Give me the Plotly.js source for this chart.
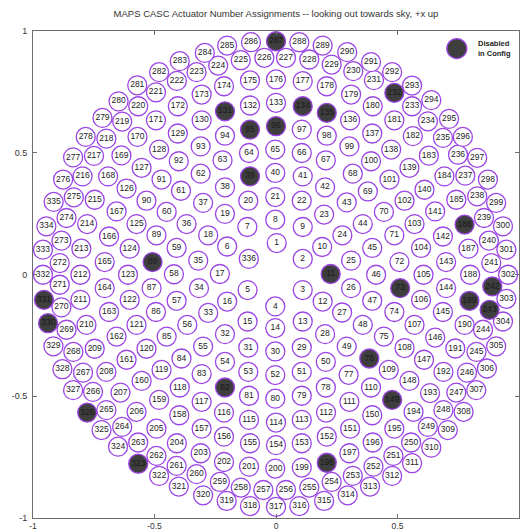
<!DOCTYPE html>
<html>
<head>
<meta charset="utf-8">
<script src="https://cdn.plot.ly/plotly-3.0.1.min.js"></script>
<style>html,body{margin:0;padding:0;background:#fff;}#chart{width:521px;height:531px;}</style>
</head>
<body>
<div id="chart"></div>
<script>
// Actuator numbers (index i -> actuator ids[i])
const actuatorIds = [
1,2,3,4,5,6,7,8,9,10,11,12,13,14,15,16,17,18,19,20,21,22,23,24,25,26,27,28,29,30,
31,32,33,34,35,36,37,38,39,40,41,42,43,44,45,46,47,48,49,50,51,52,53,54,55,56,57,58,59,60,
61,62,63,64,65,66,67,68,69,70,71,72,73,74,75,76,77,78,79,80,81,82,83,84,85,86,87,88,89,90,
91,92,93,94,95,96,97,98,99,100,101,102,103,104,105,106,107,108,109,110,111,112,113,114,115,116,117,118,119,120,
121,122,123,124,125,126,127,128,129,130,131,132,133,134,135,136,137,138,139,140,141,142,143,144,145,146,147,148,149,150,
151,152,153,154,155,156,157,158,159,160,161,162,163,164,165,166,167,168,169,170,171,172,173,174,175,176,177,178,179,180,
181,182,183,184,185,186,187,188,189,190,191,192,193,194,195,196,197,198,199,200,201,202,203,204,205,206,207,208,209,210,
211,212,213,214,215,216,217,218,219,220,221,222,223,224,225,226,227,228,229,230,231,232,233,234,235,236,237,238,239,240,
241,242,243,244,245,246,247,248,249,250,251,252,253,254,255,256,257,258,259,260,261,262,263,264,265,266,267,268,269,270,
271,272,273,274,275,276,277,278,279,280,281,282,283,284,285,286,287,288,289,290,291,292,293,294,295,296,297,298,299,300,
301,302,303,304,305,306,307,308,309,310,311,312,313,314,315,316,317,318,319,320,321,322,323,324,325,326,327,328,329,330,
331,332,333,334,335,336];

const actuatorX = [
0.003,0.110,0.110,-0.003,-0.117,-0.201,-0.118,-0.003,0.110,0.190,0.225,0.192,0.110,-0.003,-0.117,-0.201,-0.231,-0.279,-0.210,-0.114,
-0.003,0.106,0.198,0.273,0.309,0.309,0.272,0.202,0.106,-0.003,-0.114,-0.210,-0.279,-0.317,-0.320,-0.368,-0.300,-0.210,-0.107,-0.003,
0.110,0.202,0.291,0.357,0.396,0.412,0.396,0.357,0.291,0.205,0.106,-0.003,-0.114,-0.210,-0.300,-0.365,-0.409,-0.420,-0.409,-0.450,
-0.391,-0.310,-0.220,-0.111,-0.003,0.106,0.205,0.316,0.378,0.444,0.487,0.508,0.511,0.487,0.444,0.384,0.299,0.205,0.106,-0.003,
-0.111,-0.210,-0.306,-0.389,-0.450,-0.494,-0.512,-0.508,-0.492,-0.533,-0.471,-0.400,-0.310,-0.210,-0.107,0.000,0.106,0.209,0.302,0.391,
0.467,0.529,0.570,0.597,0.607,0.597,0.570,0.529,0.464,0.391,0.302,0.206,0.106,0.000,-0.111,-0.214,-0.306,-0.396,-0.471,-0.533,
-0.574,-0.602,-0.609,-0.602,-0.574,-0.615,-0.553,-0.481,-0.404,-0.306,-0.210,-0.107,0.000,0.110,0.209,0.305,0.396,0.474,0.549,0.611,
0.655,0.687,0.700,0.700,0.687,0.655,0.609,0.549,0.478,0.396,0.305,0.209,0.106,0.000,-0.107,-0.214,-0.306,-0.398,-0.481,-0.553,
-0.615,-0.656,-0.687,-0.705,-0.705,-0.687,-0.656,-0.691,-0.636,-0.570,-0.494,-0.404,-0.306,-0.214,-0.107,0.000,0.110,0.209,0.309,0.398,
0.487,0.563,0.629,0.693,0.742,0.776,0.792,0.799,0.796,0.776,0.738,0.689,0.634,0.566,0.487,0.398,0.302,0.209,0.106,-0.003,
-0.111,-0.214,-0.310,-0.408,-0.492,-0.574,-0.640,-0.698,-0.746,-0.780,-0.805,-0.805,-0.801,-0.777,-0.746,-0.796,-0.749,-0.698,-0.633,-0.567,
-0.494,-0.408,-0.327,-0.238,-0.145,-0.048,0.041,0.137,0.229,0.318,0.403,0.487,0.560,0.625,0.687,0.749,0.779,0.828,0.856,0.876,
0.886,0.890,0.879,0.852,0.825,0.786,0.742,0.689,0.625,0.556,0.483,0.401,0.316,0.229,0.137,0.041,-0.052,-0.145,-0.231,-0.327,
-0.409,-0.492,-0.567,-0.633,-0.698,-0.753,-0.794,-0.834,-0.862,-0.883,-0.890,-0.890,-0.883,-0.862,-0.832,-0.876,-0.835,-0.783,-0.714,-0.648,
-0.571,-0.481,-0.396,-0.293,-0.201,-0.103,0.000,0.096,0.192,0.293,0.391,0.478,0.560,0.639,0.712,0.769,0.828,0.872,0.906,0.934,
0.948,0.955,0.948,0.934,0.906,0.868,0.824,0.772,0.707,0.639,0.560,0.478,0.387,0.295,0.198,0.096,0.000,-0.107,-0.203,-0.300,
-0.400,-0.481,-0.567,-0.650,-0.718,-0.777,-0.835,-0.879,-0.916,-0.938,-0.955,-0.959,-0.959,-0.945,-0.915,-0.112];

const actuatorY = [
0.129,0.064,-0.064,-0.131,-0.064,0.115,0.195,0.225,0.195,0.113,0.002,-0.111,-0.193,-0.220,-0.193,-0.111,0.002,0.161,0.249,0.303,
0.318,0.303,0.246,0.161,0.057,-0.056,-0.156,-0.245,-0.300,-0.316,-0.300,-0.245,-0.158,-0.056,0.057,0.207,0.294,0.358,0.403,0.417,
0.403,0.358,0.296,0.207,0.109,-0.001,-0.108,-0.207,-0.296,-0.359,-0.400,-0.413,-0.400,-0.359,-0.296,-0.207,-0.108,0.001,0.109,0.257,
0.344,0.414,0.469,0.499,0.513,0.499,0.469,0.414,0.341,0.257,0.161,0.051,-0.056,-0.154,-0.255,-0.345,-0.412,-0.464,-0.498,-0.510,
-0.498,-0.464,-0.409,-0.345,-0.255,-0.154,-0.056,0.051,0.161,0.303,0.390,0.465,0.526,0.570,0.595,0.609,0.595,0.570,0.526,0.465,
0.390,0.303,0.207,0.109,-0.001,-0.104,-0.207,-0.302,-0.392,-0.464,-0.523,-0.567,-0.597,-0.608,-0.597,-0.567,-0.523,-0.464,-0.392,-0.305,
-0.207,-0.104,-0.001,0.106,0.207,0.353,0.438,0.513,0.579,0.633,0.670,0.694,0.705,0.691,0.664,0.633,0.579,0.513,0.438,0.348,
0.259,0.156,0.051,-0.056,-0.154,-0.259,-0.350,-0.437,-0.515,-0.578,-0.633,-0.666,-0.693,-0.701,-0.693,-0.666,-0.633,-0.578,-0.515,-0.437,
-0.350,-0.255,-0.154,-0.056,0.051,0.156,0.259,0.403,0.489,0.565,0.633,0.691,0.739,0.773,0.797,0.801,0.794,0.773,0.739,0.691,
0.633,0.568,0.488,0.403,0.307,0.205,0.106,-0.001,-0.108,-0.207,-0.304,-0.400,-0.487,-0.564,-0.633,-0.690,-0.734,-0.773,-0.793,-0.797,
-0.789,-0.770,-0.734,-0.693,-0.633,-0.564,-0.485,-0.400,-0.305,-0.207,-0.104,-0.001,0.106,0.207,0.307,0.403,0.487,0.558,0.628,0.691,
0.748,0.795,0.831,0.858,0.880,0.890,0.890,0.883,0.862,0.835,0.798,0.746,0.691,0.629,0.561,0.492,0.406,0.321,0.232,0.139,
0.047,-0.049,-0.145,-0.227,-0.318,-0.403,-0.485,-0.557,-0.626,-0.690,-0.745,-0.789,-0.827,-0.852,-0.875,-0.885,-0.885,-0.875,-0.852,-0.820,
-0.786,-0.745,-0.690,-0.626,-0.557,-0.482,-0.403,-0.318,-0.227,-0.135,-0.042,0.047,0.139,0.232,0.317,0.390,0.481,0.565,0.643,0.711,
0.777,0.831,0.876,0.910,0.940,0.954,0.958,0.954,0.940,0.913,0.872,0.831,0.776,0.716,0.639,0.565,0.479,0.390,0.294,0.198,
0.102,-0.001,-0.100,-0.193,-0.295,-0.386,-0.475,-0.564,-0.639,-0.711,-0.775,-0.827,-0.871,-0.907,-0.930,-0.951,-0.954,-0.951,-0.930,-0.907,
-0.871,-0.827,-0.777,-0.707,-0.639,-0.567,-0.475,-0.389,-0.295,-0.200,-0.104,-0.001,0.102,0.198,0.298,0.064];

// Actuators disabled in config
const disabledIds = [11,39,73,76,82,88,95,96,131,134,135,149,186,189,198,232,242,243,287,323,326,330,331];

const tickVals = [-1, -0.5, 0, 0.5, 1];
const tickLabels = ["-1", "-0.5", "0", "0.5", "1"];

const FONT = "Liberation Sans, Arial, Helvetica, sans-serif";
const RING = "#9b45e4";

const en = {x: [], y: [], t: []}, dis = {x: [], y: [], t: []};
actuatorIds.forEach((id, i) => {
  const tgt = disabledIds.includes(id) ? dis : en;
  tgt.x.push(actuatorX[i]); tgt.y.push(actuatorY[i]); tgt.t.push(String(id));
});

const traces = [
  {
    type: "scatter", mode: "markers+text", x: en.x, y: en.y, text: en.t,
    textposition: "middle center", cliponaxis: false, hoverinfo: "text",
    marker: {symbol: "circle", size: 19, color: "#ffffff", line: {color: RING, width: 1.3}},
    textfont: {family: FONT, size: 8.5, color: "#222222"},
    showlegend: false, name: "Enabled"
  },
  {
    type: "scatter", mode: "markers+text", x: dis.x, y: dis.y, text: dis.t,
    textposition: "middle center", cliponaxis: false, hoverinfo: "text",
    marker: {symbol: "circle", size: 19, color: "#3e3e3e", line: {color: RING, width: 1.3}},
    textfont: {family: FONT, size: 8.5, color: "#1a1a1a"},
    showlegend: false, name: "Disabled in Config"
  }
];

const axisCommon = {
  range: [-1, 1], showgrid: false, zeroline: false, showline: true,
  linecolor: "#6e6e6e", linewidth: 1, mirror: "ticks", ticks: "inside", ticklen: 4,
  tickcolor: "#6e6e6e", tickvals: tickVals, ticktext: tickLabels,
  tickfont: {family: FONT, size: 9, color: "#333333"}, fixedrange: true
};

const layout = {
  width: 521, height: 531,
  margin: {l: 33, r: 2, t: 31, b: 13, pad: 0},
  paper_bgcolor: "#ffffff", plot_bgcolor: "#ffffff",
  title: {
    text: "MAPS CASC Actuator Number Assignments -- looking out towards sky, +x up",
    font: {family: FONT, size: 9.5, color: "#333333"},
    xref: "paper", x: 0.5, xanchor: "center",
    yref: "container", y: 0.974, yanchor: "middle"
  },
  xaxis: Object.assign({}, axisCommon, {ticklabelstandoff: 0, tickfont: {family: FONT, size: 8.5, color: "#333333"}}),
  yaxis: Object.assign({}, axisCommon, {ticklabelstandoff: 3}),
  shapes: [{
    type: "circle", xref: "paper", yref: "paper",
    xsizemode: "pixel", ysizemode: "pixel",
    xanchor: 0.872, yanchor: 0.964, x0: -10, x1: 10, y0: -10, y1: 10,
    fillcolor: "#3e3e3e", line: {color: RING, width: 1.3}
  }],
  annotations: [{
    xref: "paper", yref: "paper", x: 0.912, y: 0.964,
    xanchor: "left", yanchor: "middle", align: "left", showarrow: false,
    text: "<b>Disabled</b><br><b>in Config</b>",
    font: {family: FONT, size: 7.5, color: "#222222"}
  }],
  showlegend: false
};

Plotly.newPlot("chart", traces, layout, {displayModeBar: false, staticPlot: true});
</script>
</body>
</html>
